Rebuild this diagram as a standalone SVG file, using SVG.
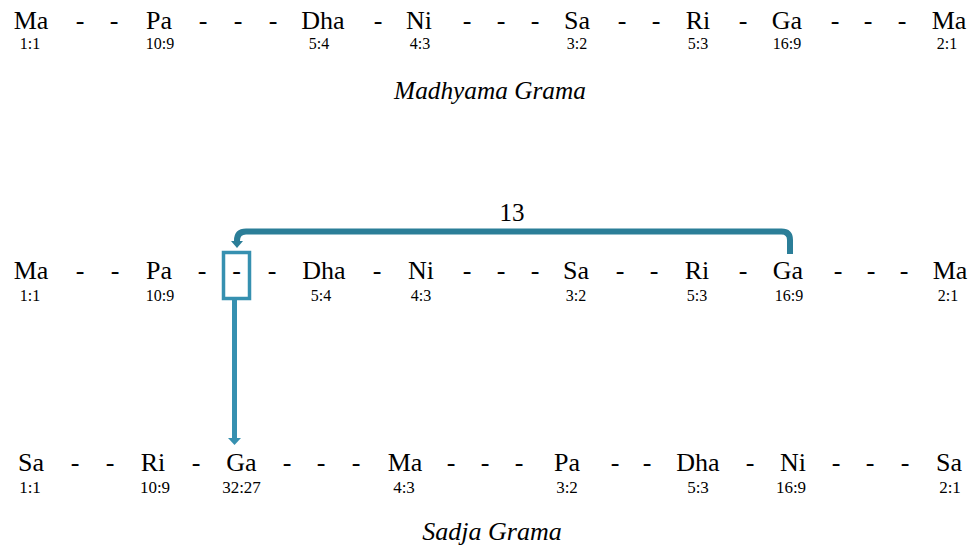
<svg xmlns="http://www.w3.org/2000/svg" width="972" height="546" viewBox="0 0 972 546" font-family="Liberation Serif, Times New Roman, serif">
<style>
text{font-family:"Liberation Serif","Times New Roman",serif;fill:#000;text-anchor:middle}
.n{font-size:26px}
.r{font-size:16px}
.r3{font-size:17px}
.t{font-style:italic}
.lbl{font-size:25px}
</style>
<defs>
<marker id="ahTop" viewBox="0 0 10 10" refX="0" refY="5" markerUnits="userSpaceOnUse" markerWidth="7" markerHeight="12" orient="auto" preserveAspectRatio="none"><path d="M0,0 L10,5 L0,10 z" fill="#2b7e98"/></marker>
<marker id="ahDown" viewBox="0 0 10 10" refX="0" refY="5" markerUnits="userSpaceOnUse" markerWidth="7" markerHeight="13" orient="auto" preserveAspectRatio="none"><path d="M0,0 L10,5 L0,10 z" fill="#3690b0"/></marker>
</defs>
<rect width="972" height="546" fill="#fff"/>

<g id="madhyama-grama">
<text class="n" x="31" y="29">Ma</text><text class="r" x="30" y="49">1:1</text>
<text class="n" x="80" y="29">-</text><text class="n" x="114" y="29">-</text>
<text class="n" x="159" y="29">Pa</text><text class="r" x="160" y="49">10:9</text>
<text class="n" x="203" y="29">-</text><text class="n" x="238" y="29">-</text><text class="n" x="273" y="29">-</text>
<text class="n" x="323" y="29">Dha</text><text class="r" x="319" y="49">5:4</text>
<text class="n" x="378" y="29">-</text>
<text class="n" x="419" y="29">Ni</text><text class="r" x="420" y="49">4:3</text>
<text class="n" x="467" y="29">-</text><text class="n" x="501" y="29">-</text><text class="n" x="535" y="29">-</text>
<text class="n" x="577" y="29">Sa</text><text class="r" x="577" y="49">3:2</text>
<text class="n" x="622" y="29">-</text><text class="n" x="656" y="29">-</text>
<text class="n" x="698" y="29">Ri</text><text class="r" x="698" y="49">5:3</text>
<text class="n" x="743" y="29">-</text>
<text class="n" x="787" y="29">Ga</text><text class="r" x="787" y="49">16:9</text>
<text class="n" x="835" y="29">-</text><text class="n" x="868" y="29">-</text><text class="n" x="902" y="29">-</text>
<text class="n" x="949" y="29">Ma</text><text class="r" x="947" y="49">2:1</text>
<text class="t" x="490" y="99" style="font-size:25.3px">Madhyama Grama</text>
</g>

<g id="madhyama-grama-shifted">
<text class="n" x="31" y="279">Ma</text><text class="r" x="30" y="301">1:1</text>
<text class="n" x="80" y="279">-</text><text class="n" x="115" y="279">-</text>
<text class="n" x="159" y="279">Pa</text><text class="r" x="160" y="301">10:9</text>
<text class="n" x="202" y="279">-</text>
<text class="n" x="272" y="279">-</text>
<text class="n" x="324" y="279">Dha</text><text class="r" x="321" y="301">5:4</text>
<text class="n" x="377" y="279">-</text>
<text class="n" x="421" y="279">Ni</text><text class="r" x="421" y="301">4:3</text>
<text class="n" x="467" y="279">-</text><text class="n" x="501" y="279">-</text><text class="n" x="535" y="279">-</text>
<text class="n" x="576" y="279">Sa</text><text class="r" x="576" y="301">3:2</text>
<text class="n" x="620" y="279">-</text><text class="n" x="654" y="279">-</text>
<text class="n" x="697" y="279">Ri</text><text class="r" x="697" y="301">5:3</text>
<text class="n" x="743" y="279">-</text>
<text class="n" x="788" y="279">Ga</text><text class="r" x="789" y="301">16:9</text>
<text class="n" x="838" y="279">-</text><text class="n" x="871" y="279">-</text><text class="n" x="904" y="279">-</text>
<text class="n" x="950" y="279">Ma</text><text class="r" x="948" y="301">2:1</text>
</g>

<g id="empty-slot">
<rect x="223.5" y="252.5" width="26" height="46" fill="none" stroke="#3690b0" stroke-width="3.5"/>
<text class="n" x="236.5" y="279">-</text>
</g>

<g id="sadja-grama">
<text class="n" x="31" y="471">Sa</text><text class="r r3" x="30" y="493">1:1</text>
<text class="n" x="75" y="471">-</text><text class="n" x="110" y="471">-</text>
<text class="n" x="153" y="471">Ri</text><text class="r r3" x="155" y="493">10:9</text>
<text class="n" x="196" y="471">-</text>
<text class="n" x="241.5" y="471">Ga</text><text class="r r3" x="241.5" y="493">32:27</text>
<text class="n" x="287" y="471">-</text><text class="n" x="321" y="471">-</text><text class="n" x="356" y="471">-</text>
<text class="n" x="405" y="471">Ma</text><text class="r r3" x="404" y="493">4:3</text>
<text class="n" x="451" y="471">-</text><text class="n" x="485" y="471">-</text><text class="n" x="519" y="471">-</text>
<text class="n" x="567" y="471">Pa</text><text class="r r3" x="567" y="493">3:2</text>
<text class="n" x="615" y="471">-</text><text class="n" x="647" y="471">-</text>
<text class="n" x="698" y="471">Dha</text><text class="r r3" x="698" y="493">5:3</text>
<text class="n" x="750" y="471">-</text>
<text class="n" x="793" y="471">Ni</text><text class="r r3" x="791" y="493">16:9</text>
<text class="n" x="836" y="471">-</text><text class="n" x="870" y="471">-</text><text class="n" x="905" y="471">-</text>
<text class="n" x="949" y="471">Sa</text><text class="r r3" x="950" y="493">2:1</text>
<text class="t" x="492" y="540" style="font-size:26px">Sadja Grama</text>
</g>

<g id="connectors" fill="none">
<path d="M790,254 V240 Q790,231.5 781.5,231.5 H246 Q237,231.5 237,240.5 V241" stroke="#2b7e98" stroke-width="6" marker-end="url(#ahTop)"/>
<path d="M234.5,300 V438" stroke="#3690b0" stroke-width="5" marker-end="url(#ahDown)"/>
<text class="lbl" x="512" y="221">13</text>
</g>
</svg>
